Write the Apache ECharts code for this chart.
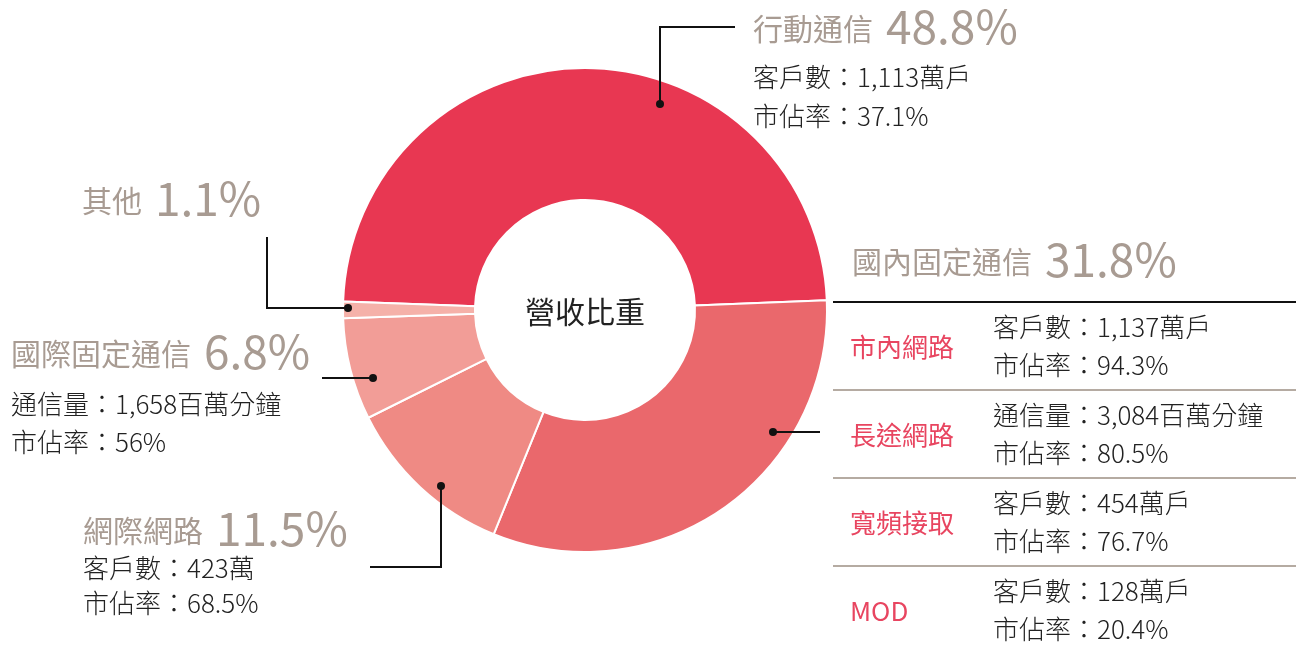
<!DOCTYPE html>
<html>
<head>
<meta charset="utf-8">
<script src="https://cdn.jsdelivr.net/npm/echarts@6/dist/echarts.min.js"></script>
<style>
  html, body { margin: 0; padding: 0; background: #fff; }
  #main { width: 1296px; height: 651px; }
</style>
</head>
<body>
<div id="main"></div>
<script>
// 營收比重資料
var segNames = ["行動通信", "國內固定通信", "網際網路", "國際固定通信", "其他"];
var segShares = [48.8, 31.8, 11.5, 6.8, 1.1];

var mobileLines = ["客戶數：1,113萬戶", "市佔率：37.1%"];
var internetLines = ["客戶數：423萬", "市佔率：68.5%"];
var intlLines = ["通信量：1,658百萬分鐘", "市佔率：56%"];

var domesticItems = ["市內網路", "長途網路", "寬頻接取", "MOD"];
var domesticLines = [
  ["客戶數：1,137萬戶", "市佔率：94.3%"],
  ["通信量：3,084百萬分鐘", "市佔率：80.5%"],
  ["客戶數：454萬戶", "市佔率：76.7%"],
  ["客戶數：128萬戶", "市佔率：20.4%"],
];
var centerTitle = "營收比重";

// 樣式與版面
var segColors = ["#E83752", "#EA686C", "#EF8A84", "#F29D97", "#F5B1A9"];
var FONT = '"Noto Sans CJK TC", "Noto Sans", sans-serif';
var GRAY = "#A89B92";
var INK = "#222";
var ROW_RED = "#E84560";

var myChart = echarts.init(document.getElementById("main"));

var graphics = [];

function titleText(i, x, bottom) {
  graphics.push({
    type: "text",
    silent: true,
    z: 10,
    style: {
      x: x,
      y: bottom,
      verticalAlign: "bottom",
      text: "{n|" + segNames[i] + "}{p|" + segShares[i] + "%}",
      fill: GRAY,
      rich: {
        n: { fontSize: 30, fontFamily: FONT, fontWeight: 400, fill: GRAY, verticalAlign: "bottom", padding: [0, 0, 6, 0] },
        p: { fontSize: 46, fontFamily: FONT, fontWeight: 400, fill: GRAY, verticalAlign: "bottom", padding: [0, 0, 0, 13] },
      },
    },
  });
}

function plainText(str, x, y, color, weight) {
  graphics.push({
    type: "text",
    silent: true,
    z: 10,
    style: {
      x: x,
      y: y,
      text: str,
      fill: color || INK,
      fontSize: 26,
      fontWeight: weight || 300,
      fontFamily: FONT,
      verticalAlign: "middle",
    },
  });
}

function leader(points, dot) {
  graphics.push({
    type: "polyline",
    silent: true,
    z: 10,
    shape: { points: points },
    style: { stroke: "#111", lineWidth: 2, fill: null },
  });
  graphics.push({
    type: "circle",
    silent: true,
    z: 11,
    shape: { cx: dot[0], cy: dot[1], r: 4 },
    style: { fill: "#111" },
  });
}

// 行動通信
titleText(0, 753, 50);
plainText(mobileLines[0], 753, 77);
plainText(mobileLines[1], 753, 116);
leader([[660, 104], [660, 27], [735, 27]], [660, 104]);

// 其他
titleText(4, 82, 222);
leader([[348, 308], [267, 308], [267, 237]], [348, 308]);

// 國際固定通信
titleText(3, 11, 375);
plainText(intlLines[0], 11, 404);
plainText(intlLines[1], 11, 442);
leader([[373, 378], [322, 378]], [373, 378]);

// 網際網路
titleText(2, 83, 552);
plainText(internetLines[0], 83, 568);
plainText(internetLines[1], 83, 603);
leader([[441, 486], [441, 567], [370, 567]], [441, 486]);

// 國內固定通信 表格
titleText(1, 852, 283);
leader([[773, 432], [820, 432]], [773, 432]);
graphics.push({
  type: "line",
  silent: true,
  z: 10,
  shape: { x1: 833, y1: 302, x2: 1296, y2: 302 },
  style: { stroke: "#111", lineWidth: 2 },
});
var rowTop = 302;
var rowH = 88;
domesticItems.forEach(function (name, k) {
  var top = rowTop + k * rowH;
  plainText(name, 850, top + 45, ROW_RED, 400);
  plainText(domesticLines[k][0], 993, top + 25);
  plainText(domesticLines[k][1], 993, top + 63);
  if (k < domesticItems.length - 1) {
    graphics.push({
      type: "line",
      silent: true,
      z: 10,
      shape: { x1: 833, y1: top + rowH, x2: 1296, y2: top + rowH },
      style: { stroke: "#B5ABA2", lineWidth: 2 },
    });
  }
});

// 中心文字
graphics.push({
  type: "text",
  silent: true,
  z: 10,
  style: {
    x: 585,
    y: 312,
    text: centerTitle,
    fill: INK,
    fontSize: 30,
    fontFamily: FONT,
    align: "center",
    verticalAlign: "middle",
  },
});

var option = {
  backgroundColor: "#fff",
  animation: false,
  series: [
    {
      type: "pie",
      center: [585, 310],
      radius: [110, 242],
      startAngle: 178,
      clockwise: true,
      silent: true,
      label: { show: false },
      labelLine: { show: false },
      itemStyle: { borderColor: "#fff", borderWidth: 2 },
      data: segNames.map(function (n, i) {
        return { name: n, value: segShares[i], itemStyle: { color: segColors[i] } };
      }),
    },
  ],
  graphic: graphics,
};

myChart.setOption(option);
</script>
</body>
</html>
